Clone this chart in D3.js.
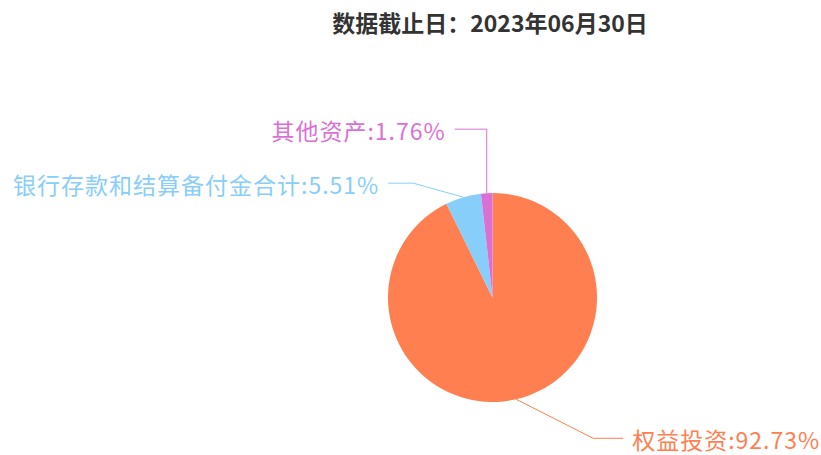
<!DOCTYPE html>
<html>
<head>
<meta charset="utf-8">
<script src="https://cdn.jsdelivr.net/npm/d3@7"></script>
<style>
  body { margin: 0; background: #fff; }
  svg { display: block; font-family: "Noto Sans CJK SC", "Noto Sans", sans-serif; }
</style>
</head>
<body>
<div id="chart"></div>
<script>
// asset mix, as of 2023-06-30
let titleText = '数据截止日：2023年06月30日'
let categories = ['权益投资', '银行存款和结算备付金合计', '其他资产']
let values = [92.73, 5.51, 1.76]
let colors = ['#ff7f50', '#87cefa', '#da70d6']

let width = 821
let height = 455
let cx = 492.5
let cy = 297.5
let radius = 104.5

// label line legs: offset of the elbow from the slice edge, then the horizontal run
let labelLegs = [
  { dx: 77, dy: 39, run: 30 },
  { dx: -50, dy: -14, run: 25 },
  { dx: 0, dy: -64, run: 32 }
]

let svg = d3
  .select('#chart')
  .append('svg')
  .attr('width', width)
  .attr('height', height)

svg
  .append('text')
  .attr('x', 490)
  .attr('y', 22)
  .attr('text-anchor', 'middle')
  .attr('dominant-baseline', 'central')
  .style('font-size', '23px')
  .style('font-weight', 'bold')
  .style('fill', '#333')
  .text(titleText)

let pieData = categories.map(function (c, i) {
  return { name: c, value: values[i], color: colors[i], leg: labelLegs[i] }
})

let pie = d3
  .pie()
  .sort(null)
  .value(function (d) {
    return d.value
  })

let arc = d3.arc().innerRadius(0).outerRadius(radius)

let slices = pie(pieData)

let g = svg.append('g').attr('transform', 'translate(' + cx + ',' + cy + ')')

g.selectAll('.slice')
  .data(slices)
  .enter()
  .append('path')
  .attr('class', 'slice')
  .attr('d', arc)
  .style('fill', function (d) {
    return d.data.color
  })

// label lines start at the outer edge, mid angle of each slice
function linePoints(d) {
  let mid = (d.startAngle + d.endAngle) / 2
  let x0 = Math.sin(mid) * radius
  let y0 = -Math.cos(mid) * radius
  let side = d.data.leg.dx > 0 || (d.data.leg.dx === 0 && x0 > 0) ? 1 : -1
  let x1 = x0 + d.data.leg.dx
  let y1 = y0 + d.data.leg.dy
  let x2 = x1 + side * d.data.leg.run
  return { pts: [[x0, y0], [x1, y1], [x2, y1]], side: side }
}

g.selectAll('.label-line')
  .data(slices)
  .enter()
  .append('polyline')
  .attr('class', 'label-line')
  .attr('points', function (d) {
    return linePoints(d).pts.join(' ')
  })
  .style('fill', 'none')
  .style('stroke', function (d) {
    return d.data.color
  })
  .style('stroke-width', 1)

g.selectAll('.label')
  .data(slices)
  .enter()
  .append('text')
  .attr('class', 'label')
  .attr('x', function (d) {
    let lp = linePoints(d)
    return lp.pts[2][0] + lp.side * 9
  })
  .attr('y', function (d) {
    return linePoints(d).pts[2][1] + 1
  })
  .attr('text-anchor', function (d) {
    return linePoints(d).side > 0 ? 'start' : 'end'
  })
  .attr('dominant-baseline', 'central')
  .style('font-size', '23px')
  .style('letter-spacing', '1px')
  .style('fill', function (d) {
    return d.data.color
  })
  .text(function (d) {
    return d.data.name + ':' + d.data.value.toFixed(2) + '%'
  })
</script>
</body>
</html>
